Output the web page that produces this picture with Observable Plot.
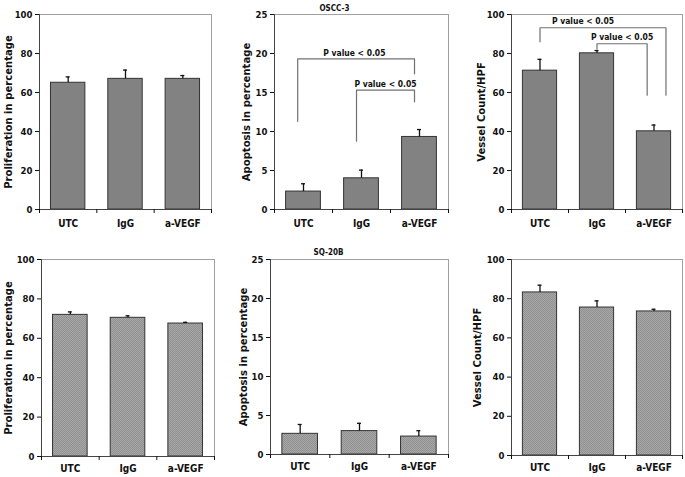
<!DOCTYPE html>
<html><head><meta charset="utf-8">
<script src="https://cdn.jsdelivr.net/npm/d3@7"></script>
<script src="https://cdn.jsdelivr.net/npm/@observablehq/plot@0.6"></script>
<style>
body{margin:0;background:#fff;}
#chart{position:relative;width:685px;height:477px;overflow:hidden;background:#fff;}
</style></head><body>
<svg width="0" height="0" style="position:absolute;left:0;top:0">
<defs><pattern id="tex" width="2" height="2" patternUnits="userSpaceOnUse">
<rect width="2" height="2" fill="#a6a6a6"/><rect width="1" height="1" fill="#929292"/><rect x="1" y="1" width="1" height="1" fill="#929292"/></pattern></defs></svg>
<div id="chart"></div>
<script>
const categories = ["UTC", "IgG", "a-VEGF"];
const proliferationOSCC = [65, 67, 67];
const proliferationOSCCErr = [3, 4.5, 1.7];
const apoptosisOSCC = [2.3, 4.0, 9.3];
const apoptosisOSCCErr = [1.0, 1.05, 0.95];
const vesselOSCC = [71.2, 80.1, 40.1];
const vesselOSCCErr = [5.8, 1.4, 3.2];
const proliferationSQ = [71.9, 70.4, 67.5];
const proliferationSQErr = [1.5, 1.0, 0.6];
const apoptosisSQ = [2.65, 3.0, 2.3];
const apoptosisSQErr = [1.2, 1.0, 0.75];
const vesselSQ = [83.2, 75.5, 73.5];
const vesselSQErr = [3.7, 3.4, 1.1];
const ticks100 = [0, 20, 40, 60, 80, 100];
const ticks25 = [0, 5, 10, 15, 20, 25];
const panelTitles = ["OSCC-3", "SQ-20B"];
const yTitles = ["Proliferation in percentage", "Apoptosis in percentage", "Vessel Count/HPF"];
const pLabel = "P value < 0.05";
// significance brackets: [from, to, y at left arm end, y of bar, y at right arm end]
const bracketsApoptosisOSCC = [["UTC", "a-VEGF", 11.3, 19.3, 17.4], ["IgG", "a-VEGF", 8.75, 15.3, 13.8]];
const bracketsVesselOSCC = [["UTC", "a-VEGF", 86, 93.2, 58.6], ["IgG", "a-VEGF", 82.2, 85, 58.6]];

const FONT = "'DejaVu Sans Condensed', 'DejaVu Sans', sans-serif";

function panel(cfg) {
  const rows = categories.map((c, i) => ({c, i, v: cfg.values[i], e: cfg.errors[i]}));
  const hw = 0.3;
  const marks = [
    Plot.frame({stroke: "#a0a0a0"}),
    Plot.rectY(rows, {x1: d => d.i - hw, x2: d => d.i + hw, y1: 0, y2: "v", fill: cfg.fill, stroke: "#333", strokeWidth: 1}),
    Plot.ruleX(rows, {x: "i", y1: "v", y2: d => d.v + d.e, stroke: "#111", strokeWidth: 1.3}),
    Plot.ruleY(rows, {y: d => d.v + d.e, x1: "i", x2: "i", insetLeft: -2, insetRight: -2, stroke: "#111", strokeWidth: 1.3}),
    Plot.ruleX([-0.5], {stroke: "#444"}),
    Plot.ruleY([0], {stroke: "#444"}),
    Plot.axisY({ticks: cfg.ticks, tickSize: 4, tickPadding: 3, label: null, fontSize: 9.5}),
    Plot.axisX({ticks: [-0.5, 0.5, 1.5, 2.5], tickSize: 4, tickFormat: () => "", label: null}),
    Plot.axisX({ticks: [0, 1, 2], tickSize: 0, tickPadding: cfg.xPad, tickFormat: i => categories[i], label: null, fontSize: 10}),
    Plot.text([cfg.yTitle], {frameAnchor: "left", textAnchor: "middle", rotate: -90, dx: cfg.yTitleDx, fontSize: 11.2})
  ];
  if (cfg.title) {
    marks.push(Plot.text([cfg.title], {frameAnchor: "top", dx: cfg.titleDx, dy: cfg.titleDy, fontSize: 8}));
  }
  (cfg.brackets || []).forEach((b, k) => {
    const o = cfg.armOffsets[k];
    const xa = categories.indexOf(b[0]) + o[0], xb = categories.indexOf(b[1]) + o[1];
    const pts = [{x: xa, y: b[2]}, {x: xa, y: b[3]}, {x: xb, y: b[3]}, {x: xb, y: b[4]}];
    marks.push(Plot.line(pts, {x: "x", y: "y", stroke: "#707070", strokeWidth: 1.2}));
    marks.push(Plot.text([{x: (xa + xb) / 2 + o[2], y: b[3], t: pLabel}], {x: "x", y: "y", text: "t", dy: -6, fontSize: 8.5}));
  });
  const svg = Plot.plot({
    width: cfg.width, height: cfg.height,
    marginLeft: cfg.m[0], marginRight: cfg.m[1], marginTop: cfg.m[2], marginBottom: cfg.m[3],
    x: {domain: [-0.5, 2.5]},
    y: {domain: [0, cfg.ticks[cfg.ticks.length - 1]]},
    style: {fontFamily: FONT, fontWeight: "bold", color: "#111", background: "transparent", overflow: "visible"},
    marks
  });
  svg.style.position = "absolute";
  svg.style.left = cfg.left + "px";
  svg.style.top = cfg.top + "px";
  document.getElementById("chart").appendChild(svg);
}

const topFill = "#828282";
const bottomFill = "url(#tex)";

panel({left: 0, top: 0, width: 225, height: 235, m: [39, 14, 14, 26], values: proliferationOSCC, errors: proliferationOSCCErr,
  ticks: ticks100, yTitle: yTitles[0], yTitleDx: -31, fill: topFill, xPad: 10});
panel({left: 225, top: 0, width: 228, height: 235, m: [49, 5, 14, 26], values: apoptosisOSCC, errors: apoptosisOSCCErr,
  ticks: ticks25, yTitle: yTitles[1], yTitleDx: -28, fill: topFill, xPad: 10,
  title: panelTitles[0], titleDx: -27, titleDy: -9,
  brackets: bracketsApoptosisOSCC, armOffsets: [[-0.1, -0.086, -0.03], [-0.086, -0.086, 0]]});
panel({left: 453, top: 0, width: 232, height: 235, m: [58, 3, 14, 26], values: vesselOSCC, errors: vesselOSCCErr,
  ticks: ticks100, yTitle: yTitles[2], yTitleDx: -30, fill: topFill, xPad: 10,
  brackets: bracketsVesselOSCC, armOffsets: [[0, 0.21, -0.35], [0, -0.12, 0]]});
panel({left: 0, top: 235, width: 225, height: 242, m: [41, 11, 24, 21], values: proliferationSQ, errors: proliferationSQErr,
  ticks: ticks100, yTitle: yTitles[0], yTitleDx: -33.5, fill: bottomFill, xPad: 8.5});
panel({left: 225, top: 235, width: 228, height: 242, m: [45, 5, 24, 23], values: apoptosisSQ, errors: apoptosisSQErr,
  ticks: ticks25, yTitle: yTitles[1], yTitleDx: -27, fill: bottomFill, xPad: 8.5,
  title: panelTitles[1], titleDx: -31, titleDy: -10});
panel({left: 453, top: 235, width: 232, height: 242, m: [58, 3, 24, 22], values: vesselSQ, errors: vesselSQErr,
  ticks: ticks100, yTitle: yTitles[2], yTitleDx: -34, fill: bottomFill, xPad: 8.5});
</script>
</body></html>
